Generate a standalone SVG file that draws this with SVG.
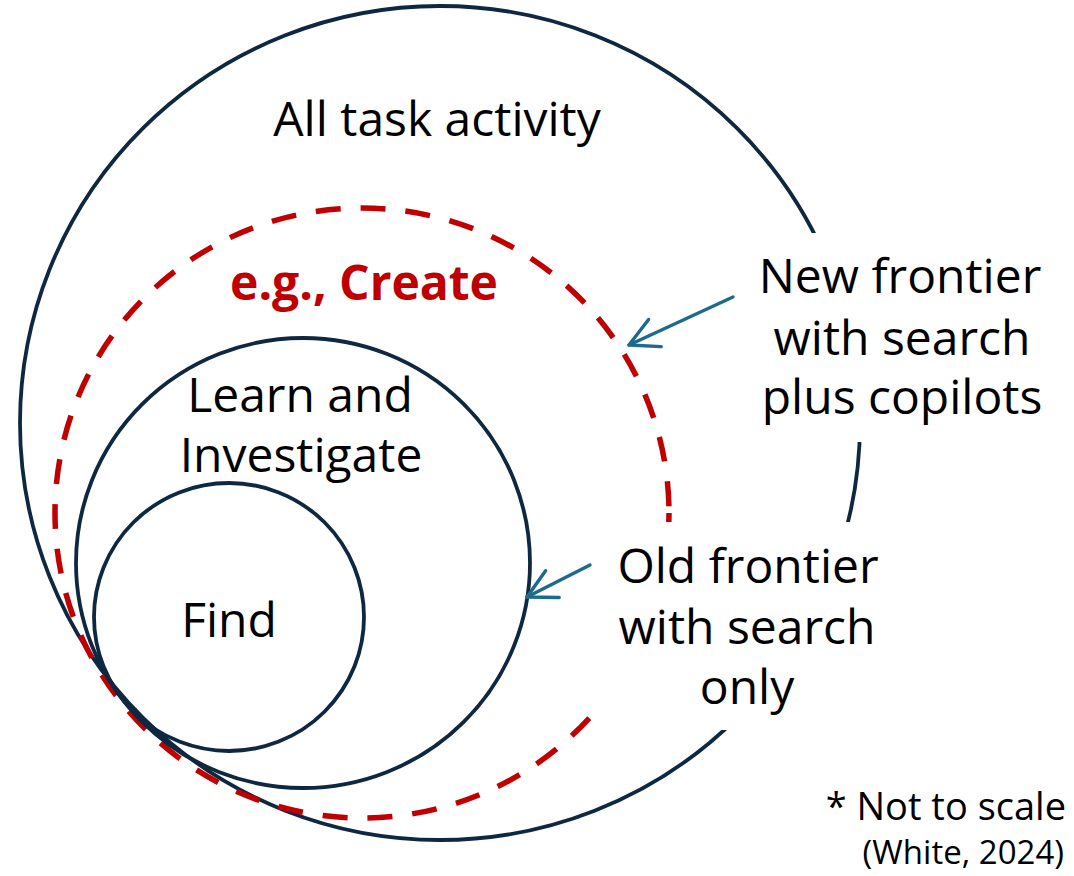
<svg xmlns="http://www.w3.org/2000/svg" width="1074" height="876" viewBox="0 0 1074 876">
<defs>
<style>
.ring{fill:none;stroke:#0E2841;stroke-width:3.8}
.dash{fill:none;stroke:#C00000;stroke-width:5.5;stroke-dasharray:25 20}
.lbl{font-family:"Open Sans","Noto Sans","Liberation Sans",sans-serif;font-size:48px;fill:#000;text-anchor:middle}
.red{font-weight:bold;fill:#C00000}
.note{font-family:"Open Sans","Noto Sans","Liberation Sans",sans-serif;fill:#000;text-anchor:end}
.mask{fill:#fff;stroke:none}
.arrow{fill:none;stroke:#1D6B8C;stroke-width:3.4;stroke-linecap:round;stroke-linejoin:round}
</style>
<marker id="open" markerUnits="userSpaceOnUse" markerWidth="40" markerHeight="40" viewBox="-34 -20 40 40" refX="0" refY="0" orient="auto">
<path d="M-28.5,-15 L0,0 L-28.5,15" fill="none" stroke="#1D6B8C" stroke-width="3.4" stroke-linecap="round" stroke-linejoin="round"/>
</marker>
</defs>
<rect width="1074" height="876" fill="#fff"/>
<g id="all-task">
<ellipse class="ring" cx="440" cy="423" rx="420" ry="417"/>
<text class="lbl" x="437" y="136">All task activity</text>
</g>
<g id="create">
<ellipse class="dash" cx="362" cy="513" rx="307" ry="305"/>
<text class="lbl red" x="364" y="300">e.g., Create</text>
</g>
<g id="learn">
<ellipse class="ring" cx="303" cy="563" rx="227" ry="225"/>
<text class="lbl" x="300" y="412">Learn and</text>
<text class="lbl" x="301" y="472">Investigate</text>
</g>
<g id="find">
<ellipse class="ring" cx="229" cy="617" rx="135" ry="134"/>
<text class="lbl" x="229" y="637">Find</text>
</g>
<g id="new-frontier">
<rect class="mask" x="745" y="233" width="305" height="209"/>
<text class="lbl" x="900" y="293">New frontier</text>
<text class="lbl" x="902" y="355">with search</text>
<text class="lbl" x="902" y="414">plus copilots</text>
</g>
<g id="old-frontier">
<rect class="mask" x="593" y="522" width="262" height="208"/>
<text class="lbl" x="748" y="583">Old frontier</text>
<text class="lbl" x="747" y="644">with search</text>
<text class="lbl" x="747" y="704">only</text>
</g>
<g id="connectors">
<line class="arrow" x1="733" y1="297" x2="629" y2="345" marker-end="url(#open)"/>
<line class="arrow" x1="590" y1="565" x2="527" y2="597" marker-end="url(#open)"/>
</g>
<g id="note">
<text class="note" x="1066" y="820" font-size="38">* Not to scale</text>
<text class="note" x="1064" y="864" font-size="33">(White, 2024)</text>
</g>
</svg>
